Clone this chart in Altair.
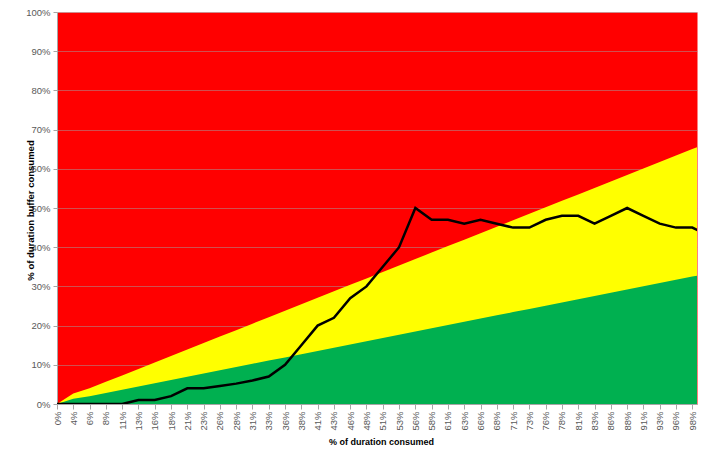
import altair as alt
import pandas as pd

duration_labels = ["0%", "4%", "6%", "8%", "11%", "13%", "16%", "18%", "21%", "23%",
                   "26%", "28%", "31%", "33%", "36%", "38%", "41%", "43%", "46%", "48%",
                   "51%", "53%", "56%", "58%", "61%", "63%", "66%", "68%", "71%", "73%",
                   "76%", "78%", "81%", "83%", "86%", "88%", "91%", "93%", "96%", "98%", "100%"]

buffer_consumed = [0, 0, 0, 0, 0, 1, 1, 2, 4, 4,
                   4.6, 5.2, 6, 7, 10, 15, 20, 22, 27, 30,
                   35, 40, 50, 47, 47, 46, 47, 46, 45, 45,
                   47, 48, 48, 46, 48, 50, 48, 46, 45, 45, 43]

yellow_top = [0, 2.7, 4.0, 5.65, 7.3, 8.95, 10.59, 12.25, 13.89, 15.55,
              17.19, 18.84, 20.49, 22.14, 23.79, 25.44, 27.09, 28.74, 30.39, 32.03,
              33.69, 35.33, 36.98, 38.63, 40.28, 41.93, 43.58, 45.23, 46.88, 48.53,
              50.17, 51.83, 53.47, 55.12, 56.77, 58.42, 60.07, 61.72, 63.37, 65.02, 66.67]

green_top = [0, 1.35, 2.0, 2.82, 3.65, 4.47, 5.3, 6.12, 6.95, 7.77,
             8.6, 9.42, 10.25, 11.07, 11.89, 12.72, 13.54, 14.37, 15.19, 16.02,
             16.84, 17.67, 18.49, 19.32, 20.14, 20.96, 21.79, 22.61, 23.44, 24.26,
             25.09, 25.91, 26.74, 27.56, 28.39, 29.21, 30.04, 30.86, 31.68, 32.51, 33.33]

y_ticks = [0, 10, 20, 30, 40, 50, 60, 70, 80, 90, 100]

df = pd.DataFrame({
    "idx": list(range(len(duration_labels))),
    "label": duration_labels,
    "buffer": buffer_consumed,
    "yellow": yellow_top,
    "green": green_top,
})

label_js = "[" + ",".join("'" + l + "'" for l in duration_labels) + "]"

FONT = "Liberation Sans"
GRAY = "#a6a6a6"
LABEL = "#595959"

x_enc = alt.X(
    "idx:Q",
    scale=alt.Scale(domain=[0, 39.29], nice=False, zero=False),
    axis=alt.Axis(
        values=list(range(40)),
        labelExpr=label_js + "[datum.value]",
        labelAngle=270,
        labelAlign="right",
        labelBaseline="middle",
        labelFont=FONT,
        labelFontSize=9.5,
        labelColor=LABEL,
        labelPadding=2,
        labelOverlap=False,
        tickSize=5,
        tickColor=GRAY,
        domainColor=GRAY,
        grid=False,
        title="% of duration consumed",
        titleFont=FONT,
        titleFontSize=9,
        titleFontWeight="bold",
        titleColor="#000000",
        titleX=324,
        titleY=33,
    ),
)

y_axis = alt.Axis(
    values=y_ticks,
    labelExpr="datum.value + '%'",
    labelFont=FONT,
    labelFontSize=9.5,
    labelColor=LABEL,
    labelPadding=3,
    tickSize=4,
    tickColor=GRAY,
    domainColor=GRAY,
    grid=True,
    gridColor="#a0a0a0",
    gridOpacity=0.5,
    gridWidth=1,
    title="% of duration buffer consumed",
    titleFont=FONT,
    titleFontSize=9.5,
    titleFontWeight="bold",
    titleColor="#000000",
    titleX=-22,
    titleY=198,
)
y_scale = alt.Scale(domain=[0, 100], nice=False)

base = alt.Chart(df)

yellow = base.mark_area(color="#FFFF00", clip=True).encode(
    x=x_enc,
    y=alt.Y("yellow:Q", scale=y_scale, axis=y_axis, stack=None),
)
green = base.mark_area(color="#00B050", clip=True).encode(
    x=x_enc,
    y=alt.Y("green:Q", scale=y_scale, axis=y_axis, stack=None),
)
line = base.mark_line(color="#000000", strokeWidth=2.5, clip=True).encode(
    x=x_enc,
    y=alt.Y("buffer:Q", scale=y_scale, axis=y_axis),
)

chart = (
    alt.layer(yellow, green, line)
    .properties(
        width=640,
        height=392,
        padding={"left": 49, "top": 4, "right": 1, "bottom": 44},
        autosize=alt.AutoSizeParams(type="none"),
        background="#ffffff",
    )
    .configure_view(fill="#FF0000", stroke="transparent")
)

chart.save("out.html", embed_options={"renderer": "svg", "actions": False})
